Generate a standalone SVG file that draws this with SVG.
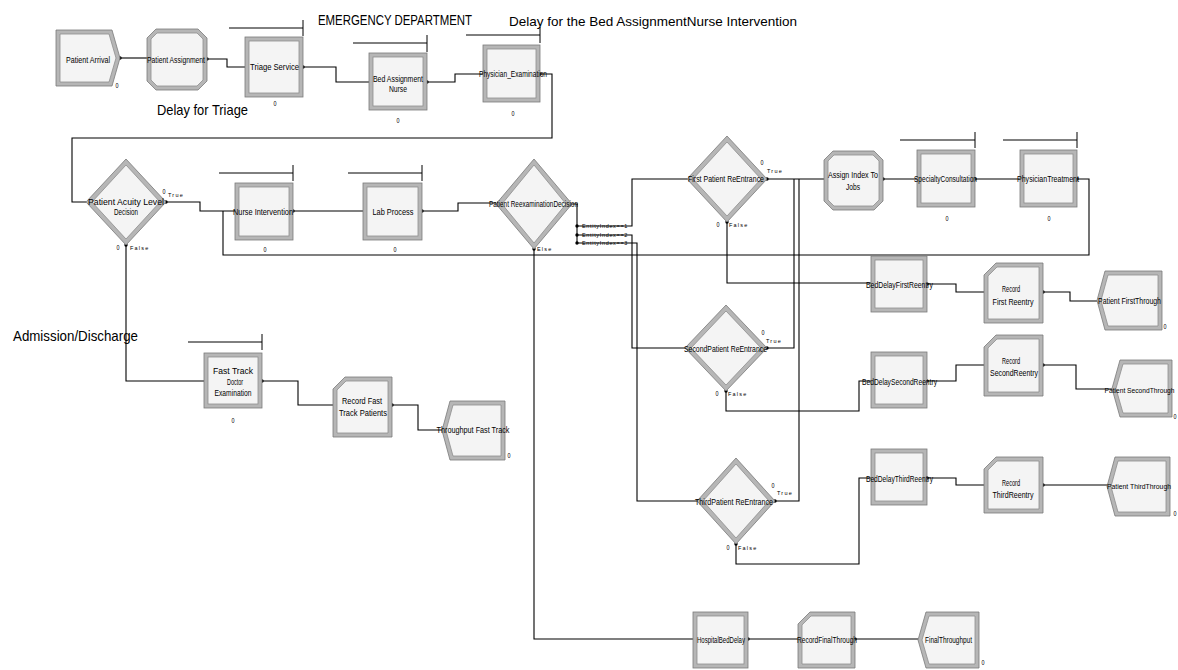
<svg xmlns="http://www.w3.org/2000/svg" width="1178" height="670" viewBox="0 0 1178 670">
<style>
text{font-family:"Liberation Sans",Arial,sans-serif;fill:#000}
.o{fill:#b6b6b6;stroke:#7a7a7a;stroke-width:0.8}
.i{fill:#f4f4f4;stroke:#8e8e8e;stroke-width:0.8}
.lb{font-size:9px;text-anchor:middle}
.cn{font-size:8px;text-anchor:middle}
.tf{font-size:5.5px;letter-spacing:1.2px}
.ei{font-size:4.8px;letter-spacing:0.6px}
.c{fill:none;stroke:#000;stroke-width:1.1}
.r{fill:none;stroke:#000;stroke-width:1}
.big{font-size:15px}
</style>
<defs>
<marker id="dot" markerWidth="6" markerHeight="6" refX="3" refY="3" markerUnits="userSpaceOnUse"><circle cx="3" cy="3" r="1.7" fill="#000"/></marker>
</defs>

<g id="titles">
<text x="395" y="25" font-size="15.5" text-anchor="middle" textLength="154" lengthAdjust="spacingAndGlyphs">EMERGENCY DEPARTMENT</text>
<text x="509" y="26" font-size="13" textLength="288" lengthAdjust="spacingAndGlyphs">Delay for the Bed  AssignmentNurse Intervention</text>
<text x="157" y="115" class="big" textLength="91" lengthAdjust="spacingAndGlyphs">Delay for Triage</text>
<text x="13" y="341" class="big" textLength="125" lengthAdjust="spacingAndGlyphs">Admission/Discharge</text>
</g>

<g id="resources">
<path class="r" d="M229,28 H303 M303,20 V36"/>
<path class="r" d="M353,43 H427 M427,35 V52"/>
<path class="r" d="M466,35 H540 M540,27 V43"/>
<path class="r" d="M219,173 H293 M293,165 V181"/>
<path class="r" d="M348,173 H422 M422,165 V181"/>
<path class="r" d="M900,140 H975 M975,132 V148"/>
<path class="r" d="M1003,140 H1077 M1077,132 V148"/>
<path class="r" d="M188,342 H262 M262,334 V350"/>
</g>

<g id="connectors">
<path class="c" marker-start="url(#dot)" d="M120,58 H147"/>
<path class="c" marker-start="url(#dot)" d="M207,59 H227 V67 H245"/>
<path class="c" marker-start="url(#dot)" d="M303,67 H336 V82 H369"/>
<path class="c" marker-start="url(#dot)" d="M427,82 H455 V74 H483"/>
<path class="c" marker-start="url(#dot)" d="M540,74 H552 V138 H72 V202 H86"/>
<path class="c" marker-start="url(#dot)" d="M166,202 H200 V211 H235"/>
<path class="c" marker-start="url(#dot)" d="M126,245 V381 H204"/>
<path class="c" marker-start="url(#dot)" d="M293,211 H363"/>
<path class="c" marker-start="url(#dot)" d="M422,211 H458 V203 H496"/>
<path class="c" marker-start="url(#dot)" d="M534,249 V639 H693"/>
<path class="c" d="M572,204 H578 M577,204 V243"/>
<path class="c" marker-start="url(#dot)" d="M577,226 H632 V179 H687"/>
<path class="c" marker-start="url(#dot)" d="M577,235 H632 V348 H685"/>
<path class="c" marker-start="url(#dot)" d="M577,243 H637 V501 H697"/>
<path class="c" marker-start="url(#dot)" d="M767,179 H824"/>
<path class="c" marker-start="url(#dot)" d="M767,348 H794 V179"/>
<path class="c" marker-start="url(#dot)" d="M775,501 H799 V179"/>
<path class="c" marker-start="url(#dot)" d="M727,222 V283 H871"/>
<path class="c" marker-start="url(#dot)" d="M726,391 V411 H859 V381 H871"/>
<path class="c" marker-start="url(#dot)" d="M736,544 V564 H859 V478 H871"/>
<path class="c" marker-start="url(#dot)" d="M883,179 H917"/>
<path class="c" marker-start="url(#dot)" d="M975,179 H1020"/>
<path class="c" marker-start="url(#dot)" d="M1077,179 H1089 V255 H223 V211"/>
<path class="c" marker-start="url(#dot)" d="M927,284 H956 V292 H984"/>
<path class="c" marker-start="url(#dot)" d="M1043,292 H1070 V301 H1097"/>
<path class="c" marker-start="url(#dot)" d="M927,381 H956 V365 H984"/>
<path class="c" marker-start="url(#dot)" d="M1043,365 H1076 V389 H1112"/>
<path class="c" marker-start="url(#dot)" d="M927,478 H956 V485 H984"/>
<path class="c" marker-start="url(#dot)" d="M1043,485 H1107"/>
<path class="c" marker-start="url(#dot)" d="M262,381 H298 V405 H333"/>
<path class="c" marker-start="url(#dot)" d="M392,405 H418 V430 H442"/>
<path class="c" marker-start="url(#dot)" d="M748,639 H798"/>
<path class="c" marker-start="url(#dot)" d="M855,639 H918"/>
</g>

<g id="patient-arrival">
<polygon class="o" points="56,30 112,30 120,58 112,86 56,86"/>
<polygon class="i" points="60,34 109,34 116,58 109,82 60,82"/>
<text class="lb" x="88" y="63" textLength="44" lengthAdjust="spacingAndGlyphs">Patient Arrival</text>
<text class="cn" x="117" y="88" textLength="3" lengthAdjust="spacingAndGlyphs">0</text>
</g>

<g id="patient-assignment">
<polygon class="o" points="156,29 198,29 207,38 207,81 198,90 156,90 147,81 147,38"/>
<polygon class="i" points="157,33 197,33 203,39 203,80 197,86 157,86 151,80 151,39"/>
<text class="lb" x="176" y="63" textLength="58" lengthAdjust="spacingAndGlyphs">Patient Assignment</text>
</g>

<g id="triage-service">
<rect class="o" x="245" y="37" width="58" height="60"/>
<rect class="i" x="249" y="41" width="50" height="52"/>
<text class="lb" x="274.5" y="70" textLength="49" lengthAdjust="spacingAndGlyphs">Triage  Service</text>
<text class="cn" x="275" y="106" textLength="3" lengthAdjust="spacingAndGlyphs">0</text>
</g>

<g id="bed-assignment-nurse">
<rect class="o" x="369" y="53" width="58" height="57"/>
<rect class="i" x="373" y="57" width="50" height="49"/>
<text class="lb" x="398" y="82" textLength="50" lengthAdjust="spacingAndGlyphs">Bed Assignment</text>
<text class="lb" x="398" y="92" textLength="18" lengthAdjust="spacingAndGlyphs">Nurse</text>
<text class="cn" x="398" y="123" textLength="3" lengthAdjust="spacingAndGlyphs">0</text>
</g>

<g id="physician-examination">
<rect class="o" x="483" y="45" width="57" height="57"/>
<rect class="i" x="487" y="49" width="49" height="49"/>
<text class="lb" x="513" y="77" textLength="68" lengthAdjust="spacingAndGlyphs">Physician_Examination</text>
<text class="cn" x="513" y="116" textLength="3" lengthAdjust="spacingAndGlyphs">0</text>
</g>

<g id="patient-acuity-level-decision">
<polygon class="o" points="126,159 166,202 126,245 86,202"/>
<polygon class="i" points="126,165 160,202 126,239 92,202"/>
<text class="lb" x="126" y="205" textLength="76" lengthAdjust="spacingAndGlyphs">Patient   Acuity   Level</text>
<text class="lb" x="126" y="215" textLength="24" lengthAdjust="spacingAndGlyphs">Decision</text>
<text class="cn" x="164" y="194" textLength="3" lengthAdjust="spacingAndGlyphs">0</text>
<text class="tf" x="168" y="197">True</text>
<text class="cn" x="118" y="250" textLength="3" lengthAdjust="spacingAndGlyphs">0</text>
<text class="tf" x="130" y="250">False</text>
</g>

<g id="nurse-intervention">
<rect class="o" x="235" y="183" width="58" height="57"/>
<rect class="i" x="239" y="187" width="50" height="49"/>
<text class="lb" x="263" y="215" textLength="60" lengthAdjust="spacingAndGlyphs">Nurse Intervention</text>
<text class="cn" x="265" y="252" textLength="3" lengthAdjust="spacingAndGlyphs">0</text>
</g>

<g id="lab-process">
<rect class="o" x="363" y="183" width="59" height="57"/>
<rect class="i" x="367" y="187" width="51" height="49"/>
<text class="lb" x="393" y="215" textLength="41" lengthAdjust="spacingAndGlyphs">Lab  Process</text>
<text class="cn" x="395" y="252" textLength="3" lengthAdjust="spacingAndGlyphs">0</text>
</g>

<g id="patient-reexamination-decision">
<polygon class="o" points="534,159 572,204 534,249 496,204"/>
<polygon class="i" points="534,165 566,204 534,243 502,204"/>
<text class="lb" x="533.5" y="207" textLength="89" lengthAdjust="spacingAndGlyphs">Patient ReexaminationDecision</text>
<text class="tf" x="537" y="251">Else</text>
<text class="ei" x="582" y="228" textLength="46" lengthAdjust="spacingAndGlyphs">EntityIndex==1</text>
<text class="ei" x="582" y="237" textLength="46" lengthAdjust="spacingAndGlyphs">EntityIndex==2</text>
<text class="ei" x="582" y="245" textLength="46" lengthAdjust="spacingAndGlyphs">EntityIndex==3</text>
</g>

<g id="first-patient-reentrance">
<polygon class="o" points="727,136 767,179 727,222 687,179"/>
<polygon class="i" points="727,142 761,179 727,216 693,179"/>
<text class="lb" x="726" y="182" textLength="76" lengthAdjust="spacingAndGlyphs">First Patient ReEntrance</text>
<text class="cn" x="762" y="165" textLength="3" lengthAdjust="spacingAndGlyphs">0</text>
<text class="tf" x="767" y="173">True</text>
<text class="cn" x="718" y="227" textLength="3" lengthAdjust="spacingAndGlyphs">0</text>
<text class="tf" x="729" y="227">False</text>
</g>

<g id="assign-index-to-jobs">
<polygon class="o" points="833,151 874,151 883,160 883,201 874,210 833,210 824,201 824,160"/>
<polygon class="i" points="834,155 873,155 879,161 879,200 873,206 834,206 828,200 828,161"/>
<text class="lb" x="853" y="178" textLength="50" lengthAdjust="spacingAndGlyphs">Assign  Index  To</text>
<text class="lb" x="853" y="190" textLength="14" lengthAdjust="spacingAndGlyphs">Jobs</text>
</g>

<g id="specialty-consultation">
<rect class="o" x="917" y="150" width="58" height="57"/>
<rect class="i" x="921" y="154" width="50" height="49"/>
<text class="lb" x="945.5" y="182" textLength="63" lengthAdjust="spacingAndGlyphs">SpecialtyConsultation</text>
<text class="cn" x="947" y="221" textLength="3" lengthAdjust="spacingAndGlyphs">0</text>
</g>

<g id="physician-treatment">
<rect class="o" x="1020" y="150" width="57" height="57"/>
<rect class="i" x="1024" y="154" width="49" height="49"/>
<text class="lb" x="1048" y="182" textLength="62" lengthAdjust="spacingAndGlyphs">PhysicianTreatment</text>
<text class="cn" x="1049" y="221" textLength="3" lengthAdjust="spacingAndGlyphs">0</text>
</g>

<g id="bed-delay-first-reentry">
<rect class="o" x="871" y="256" width="56" height="56"/>
<rect class="i" x="875" y="260" width="48" height="48"/>
<text class="lb" x="899.5" y="288" textLength="67" lengthAdjust="spacingAndGlyphs">BedDelayFirstReentry</text>
</g>

<g id="record-first-reentry">
<polygon class="o" points="996,263 1043,263 1043,323 984,323 984,275"/>
<polygon class="i" points="997,267 1039,267 1039,319 988,319 988,276"/>
<text class="lb" x="1011" y="292" textLength="18" lengthAdjust="spacingAndGlyphs">Record</text>
<text class="lb" x="1013" y="305" textLength="41" lengthAdjust="spacingAndGlyphs">First Reentry</text>
</g>

<g id="patient-first-through">
<polygon class="o" points="1105,271 1162,271 1162,330 1105,330 1097,300.5"/>
<polygon class="i" points="1108,275 1158,275 1158,326 1108,326 1101,300.5"/>
<text class="lb" x="1129.5" y="304" textLength="63" lengthAdjust="spacingAndGlyphs">Patient FirstThrough</text>
<text class="cn" x="1165" y="329" textLength="3" lengthAdjust="spacingAndGlyphs">0</text>
</g>

<g id="second-patient-reentrance">
<polygon class="o" points="726,305 767,348 726,391 685,348"/>
<polygon class="i" points="726,311 761,348 726,385 691,348"/>
<text class="lb" x="725.5" y="352" textLength="83" lengthAdjust="spacingAndGlyphs">SecondPatient ReEntrance</text>
<text class="cn" x="763" y="335" textLength="3" lengthAdjust="spacingAndGlyphs">0</text>
<text class="tf" x="766" y="343">True</text>
<text class="cn" x="717" y="396" textLength="3" lengthAdjust="spacingAndGlyphs">0</text>
<text class="tf" x="728" y="396">False</text>
</g>

<g id="bed-delay-second-reentry">
<rect class="o" x="871" y="352" width="56" height="56"/>
<rect class="i" x="875" y="356" width="48" height="48"/>
<text class="lb" x="899.5" y="385" textLength="75" lengthAdjust="spacingAndGlyphs">BedDelaySecondReentry</text>
</g>

<g id="record-second-reentry">
<polygon class="o" points="996,335 1043,335 1043,396 984,396 984,347"/>
<polygon class="i" points="997,339 1039,339 1039,392 988,392 988,348"/>
<text class="lb" x="1011" y="364" textLength="18" lengthAdjust="spacingAndGlyphs">Record</text>
<text class="lb" x="1014" y="376" textLength="48" lengthAdjust="spacingAndGlyphs">SecondReentry</text>
</g>

<g id="patient-second-through">
<polygon class="o" points="1120,360 1172,360 1172,417 1120,417 1112,388.5"/>
<polygon class="i" points="1123,364 1168,364 1168,413 1123,413 1116,388.5"/>
<text x="1139.5" y="392.5" font-size="7" text-anchor="middle" textLength="70" lengthAdjust="spacingAndGlyphs">Patient SecondThrough</text>
<text class="cn" x="1175" y="419" textLength="3" lengthAdjust="spacingAndGlyphs">0</text>
</g>

<g id="third-patient-reentrance">
<polygon class="o" points="736,458 775,501 736,544 697,501"/>
<polygon class="i" points="736,464 769,501 736,538 703,501"/>
<text class="lb" x="734" y="505" textLength="78" lengthAdjust="spacingAndGlyphs">ThirdPatient ReEntrance</text>
<text class="cn" x="773" y="488" textLength="3" lengthAdjust="spacingAndGlyphs">0</text>
<text class="tf" x="777" y="495">True</text>
<text class="cn" x="728" y="550" textLength="3" lengthAdjust="spacingAndGlyphs">0</text>
<text class="tf" x="738" y="550">False</text>
</g>

<g id="bed-delay-third-reentry">
<rect class="o" x="871" y="449" width="56" height="56"/>
<rect class="i" x="875" y="453" width="48" height="48"/>
<text class="lb" x="899.5" y="482" textLength="67" lengthAdjust="spacingAndGlyphs">BedDelayThirdReentry</text>
</g>

<g id="record-third-reentry">
<polygon class="o" points="996,457 1043,457 1043,513 984,513 984,469"/>
<polygon class="i" points="997,461 1039,461 1039,509 988,509 988,470"/>
<text class="lb" x="1011" y="486" textLength="18" lengthAdjust="spacingAndGlyphs">Record</text>
<text class="lb" x="1013" y="498" textLength="41" lengthAdjust="spacingAndGlyphs">ThirdReentry</text>
</g>

<g id="patient-third-through">
<polygon class="o" points="1115,457 1170,457 1170,516 1115,516 1107,486.5"/>
<polygon class="i" points="1118,461 1166,461 1166,512 1118,512 1111,486.5"/>
<text x="1139" y="489" font-size="7.5" text-anchor="middle" textLength="64" lengthAdjust="spacingAndGlyphs">Patient ThirdThrough</text>
<text class="cn" x="1175" y="516" textLength="3" lengthAdjust="spacingAndGlyphs">0</text>
</g>

<g id="fast-track-doctor-examination">
<rect class="o" x="204" y="353" width="58" height="55"/>
<rect class="i" x="208" y="357" width="50" height="47"/>
<text class="lb" x="233" y="374" textLength="40" lengthAdjust="spacingAndGlyphs">Fast   Track</text>
<text class="lb" x="235" y="385" textLength="16" lengthAdjust="spacingAndGlyphs">Doctor</text>
<text class="lb" x="233" y="396" textLength="37" lengthAdjust="spacingAndGlyphs">Examination</text>
<text class="cn" x="233" y="423" textLength="3" lengthAdjust="spacingAndGlyphs">0</text>
</g>

<g id="record-fast-track-patients">
<polygon class="o" points="345,377 392,377 392,437 333,437 333,389"/>
<polygon class="i" points="346,381 388,381 388,433 337,433 337,390"/>
<text class="lb" x="362" y="404" textLength="40" lengthAdjust="spacingAndGlyphs">Record  Fast</text>
<text class="lb" x="363" y="416" textLength="48" lengthAdjust="spacingAndGlyphs">Track  Patients</text>
</g>

<g id="throughput-fast-track">
<polygon class="o" points="450,401 505,401 505,460 450,460 442,430.5"/>
<polygon class="i" points="453,405 501,405 501,456 453,456 446,430.5"/>
<text class="lb" x="473" y="433" textLength="73" lengthAdjust="spacingAndGlyphs">Throughput Fast Track</text>
<text class="cn" x="509" y="458" textLength="3" lengthAdjust="spacingAndGlyphs">0</text>
</g>

<g id="hospital-bed-delay">
<rect class="o" x="693" y="612" width="55" height="56"/>
<rect class="i" x="697" y="616" width="47" height="48"/>
<text class="lb" x="721" y="643" textLength="48" lengthAdjust="spacingAndGlyphs">HospitalBedDelay</text>
</g>

<g id="record-final-through">
<polygon class="o" points="810,612 855,612 855,668 798,668 798,624"/>
<polygon class="i" points="811,616 851,616 851,664 802,664 802,625"/>
<text class="lb" x="827" y="643" textLength="60" lengthAdjust="spacingAndGlyphs">RecordFinalThrough</text>
</g>

<g id="final-throughput">
<polygon class="o" points="926,612 979,612 979,668 926,668 918,640"/>
<polygon class="i" points="929,616 975,616 975,664 929,664 922,640"/>
<text class="lb" x="948.5" y="643" textLength="47" lengthAdjust="spacingAndGlyphs">FinalThroughput</text>
<text class="cn" x="983" y="665" textLength="3" lengthAdjust="spacingAndGlyphs">0</text>
</g>
</svg>
